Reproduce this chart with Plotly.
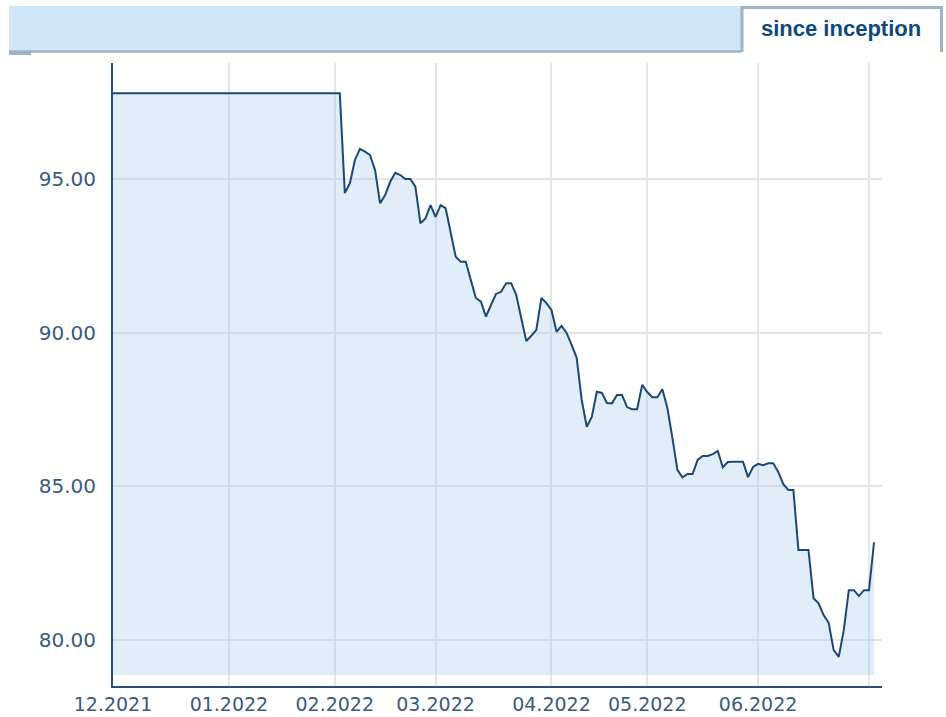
import plotly.graph_objects as go

# ---- data ----
dates = [
    "2021-12-01", "2022-02-02", "2022-02-03", "2022-02-04", "2022-02-07", "2022-02-08",
    "2022-02-09", "2022-02-10", "2022-02-11", "2022-02-14", "2022-02-15", "2022-02-16",
    "2022-02-17", "2022-02-18", "2022-02-21", "2022-02-22", "2022-02-23", "2022-02-24",
    "2022-02-25", "2022-02-28", "2022-03-01", "2022-03-02", "2022-03-03", "2022-03-04",
    "2022-03-07", "2022-03-08", "2022-03-09", "2022-03-10", "2022-03-11", "2022-03-14",
    "2022-03-15", "2022-03-16", "2022-03-17", "2022-03-18", "2022-03-21", "2022-03-22",
    "2022-03-23", "2022-03-24", "2022-03-25", "2022-03-28", "2022-03-29", "2022-03-30",
    "2022-03-31", "2022-04-01", "2022-04-04", "2022-04-05", "2022-04-06", "2022-04-07",
    "2022-04-08", "2022-04-11", "2022-04-12", "2022-04-13", "2022-04-14", "2022-04-19",
    "2022-04-20", "2022-04-21", "2022-04-22", "2022-04-25", "2022-04-26", "2022-04-27",
    "2022-04-28", "2022-04-29", "2022-05-02", "2022-05-03", "2022-05-04", "2022-05-05",
    "2022-05-06", "2022-05-09", "2022-05-10", "2022-05-11", "2022-05-12", "2022-05-13",
    "2022-05-16", "2022-05-17", "2022-05-18", "2022-05-19", "2022-05-20", "2022-05-23",
    "2022-05-24", "2022-05-25", "2022-05-26", "2022-05-27", "2022-05-30", "2022-05-31",
    "2022-06-01", "2022-06-02", "2022-06-03", "2022-06-06", "2022-06-07", "2022-06-08",
    "2022-06-09", "2022-06-10", "2022-06-13", "2022-06-14", "2022-06-15", "2022-06-16",
    "2022-06-17", "2022-06-20", "2022-06-21", "2022-06-22", "2022-06-23", "2022-06-24",
    "2022-06-27", "2022-06-28", "2022-06-29", "2022-06-30", "2022-07-01", "2022-07-04",
]
values = [
    97.79, 97.79, 94.54, 94.86, 95.62, 95.98,
    95.89, 95.78, 95.29, 94.21, 94.48, 94.91,
    95.20, 95.13, 95.00, 95.00, 94.75, 93.56,
    93.72, 94.15, 93.77, 94.15, 94.05, 93.23,
    92.47, 92.31, 92.31, 91.71, 91.13, 91.01,
    90.52, 90.90, 91.26, 91.33, 91.61, 91.61,
    91.23, 90.48, 89.73, 89.90, 90.09, 91.13,
    90.96, 90.74, 90.03, 90.22, 89.99, 89.60,
    89.18, 87.81, 86.94, 87.26, 88.08, 88.04,
    87.71, 87.70, 87.97, 87.97, 87.58, 87.51,
    87.51, 88.30, 88.07, 87.90, 87.90, 88.16,
    87.55, 86.57, 85.53, 85.29, 85.40, 85.40,
    85.86, 85.99, 85.99, 86.05, 86.15, 85.62,
    85.79, 85.80, 85.80, 85.80, 85.30, 85.63,
    85.73, 85.69, 85.75, 85.75, 85.47, 85.07,
    84.88, 84.88, 82.93, 82.93, 82.93, 81.36,
    81.19, 80.81, 80.56, 79.67, 79.45, 80.32,
    81.62, 81.62, 81.43, 81.62, 81.62, 83.18,
]
fill_floor = 78.86

x_tick_vals = ["2021-12-01", "2022-01-03", "2022-02-01", "2022-03-01",
               "2022-04-01", "2022-05-02", "2022-06-01", "2022-07-01"]
x_tick_text = ["12.2021", "01.2022", "02.2022", "03.2022",
               "04.2022", "05.2022", "06.2022", ""]
y_tick_vals = [80, 85, 90, 95]
y_tick_text = ["80.00", "85.00", "90.00", "95.00"]
holidays = ["2022-04-15", "2022-04-18"]
tab_label = "since inception"

# ---- layout geometry (pixels) ----
W, H = 946, 717
L, R, T, B = 113, 882, 63, 686
PW, PH = R - L, B - T


def px(x):
    return (x - L) / PW


def py(y):
    return (B - y) / PH


fig = go.Figure()
fig.add_trace(go.Scatter(
    x=dates, y=[fill_floor] * len(dates), mode="lines",
    line=dict(width=0, color="rgba(0,0,0,0)"), hoverinfo="skip", showlegend=False,
))
fig.add_trace(go.Scatter(
    x=dates, y=values, mode="lines", fill="tonexty",
    fillcolor="rgba(165,203,238,0.33)",
    line=dict(color="#1d4874", width=2), showlegend=False,
))

border = "#9db3ca"
shapes = [
    dict(type="rect", xref="paper", yref="paper", x0=px(9), x1=px(741), y0=py(52), y1=py(6),
         fillcolor="#cfe5f8", line=dict(width=0), layer="above"),
    dict(type="line", xref="paper", yref="paper", x0=px(9), x1=px(741), y0=py(51.5), y1=py(51.5),
         line=dict(color=border, width=2.5), layer="above"),
    dict(type="rect", xref="paper", yref="paper", x0=px(9), x1=px(31), y0=py(55), y1=py(51.5),
         fillcolor=border, line=dict(width=0), layer="above"),
    dict(type="rect", xref="paper", yref="paper", x0=px(741), x1=px(943), y0=py(53), y1=py(6),
         fillcolor="white", line=dict(width=0), layer="above"),
    dict(type="line", xref="paper", yref="paper", x0=px(742), x1=px(742), y0=py(52), y1=py(6),
         line=dict(color=border, width=3), layer="above"),
    dict(type="line", xref="paper", yref="paper", x0=px(741), x1=px(943), y0=py(7.5), y1=py(7.5),
         line=dict(color=border, width=3), layer="above"),
    dict(type="line", xref="paper", yref="paper", x0=px(941.5), x1=px(941.5), y0=py(52), y1=py(6),
         line=dict(color=border, width=3), layer="above"),
]

x_tick_font = dict(family="DejaVu Sans, Verdana, sans-serif", size=19, color="#3a5a80")
y_tick_font = dict(family="DejaVu Sans, Verdana, sans-serif", size=20, color="#3a5a80")

fig.update_layout(
    width=W, height=H,
    margin=dict(l=L, r=W - R, t=T, b=H - B, pad=0, autoexpand=False),
    paper_bgcolor="white", plot_bgcolor="white",
    shapes=shapes,
    annotations=[dict(
        text="<b>" + tab_label + "</b>", xref="paper", yref="paper",
        x=px(841), y=py(28), xanchor="center", yanchor="middle", showarrow=False,
        font=dict(family="Liberation Sans, Arial, sans-serif", size=22, color="#0f4a7b"),
    )],
    xaxis=dict(
        type="date", automargin=False,
        range=["2021-12-01", "2022-07-05 14:00"],
        rangebreaks=[dict(bounds=["sat", "mon"]), dict(values=holidays)],
        tickmode="array", tickvals=x_tick_vals, ticktext=x_tick_text,
        showgrid=True, gridcolor="#e6e6e6", gridwidth=1.5,
        showline=True, linecolor="#2d4f77", linewidth=2,
        ticks="", tickfont=x_tick_font,
        zeroline=False, fixedrange=True,
    ),
    yaxis=dict(
        automargin=False,
        range=[78.503, 98.775],
        tickmode="array", tickvals=y_tick_vals, ticktext=y_tick_text,
        showgrid=True, gridcolor="#e6e6e6", gridwidth=1.5,
        showline=True, linecolor="#2d4f77", linewidth=2,
        ticks="outside", ticklen=11, tickcolor="rgba(0,0,0,0)",
        tickfont=y_tick_font,
        zeroline=False, fixedrange=True,
    ),
)

fig.write_html("out.html", config={"displayModeBar": False},
               post_script="document.body.style.margin='0';document.body.style.overflow='hidden';")
